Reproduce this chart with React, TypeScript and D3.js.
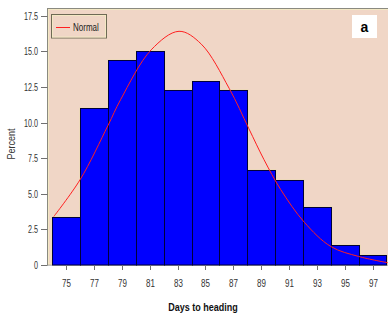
import { useEffect, useRef } from 'react';
import * as d3 from 'd3';

// histogram bins (centres, width 2 days) and percent per bin
const binCenters = [75, 77, 79, 81, 83, 85, 87, 89, 91, 93, 95, 97];
const percents = [3.4, 11.0, 14.4, 15.0, 12.3, 12.9, 12.3, 6.7, 6.0, 4.1, 1.4, 0.7];

// fitted normal curve
const normalX = [74.1, 76.0, 78.0, 78.9, 81.1, 83.1, 84.7, 86.7, 88.1, 89.2, 90.4, 92.1, 94.0, 96.0, 98.1];
const normalY = [3.4, 6.0, 9.8, 11.6, 15.1, 16.4, 15.5, 12.4, 9.6, 7.4, 5.3, 3.0, 1.3, 0.6, 0.16];

const yTicks = [0, 2.5, 5, 7.5, 10, 12.5, 15, 17.5];

const W = 388;
const H = 315;

export default function App() {
  const svgRef = useRef<SVGSVGElement>(null);

  useEffect(() => {
    if (!svgRef.current) return;
    const svg = d3.select(svgRef.current);
    svg.selectAll('*').remove();

    const left = 47.5;
    const top = 8.5;
    const bottom = 265;
    const right = 392;

    const x = d3.scaleLinear().domain([73.65, 98.4]).range([left, right]);
    const y = d3.scaleLinear().domain([0, 18]).range([bottom, top]);

    const font = '"Liberation Sans", Arial, sans-serif';

    // plot background + frame
    svg.append('rect')
      .attr('x', left).attr('y', top)
      .attr('width', right - left).attr('height', bottom - top)
      .attr('fill', '#f0d6c6')
      .attr('stroke', '#8a8a80');
    svg.append('rect')
      .attr('x', left + 1).attr('y', top + 1)
      .attr('width', right - left - 2).attr('height', bottom - top - 2)
      .attr('fill', 'none')
      .attr('stroke', '#f3e8c4');

    // bars: beige highlight then blue bar
    const bars = svg.append('g');
    binCenters.forEach((c, i) => {
      const x0 = Math.round(x(c - 1)) + 0.5;
      const x1 = Math.round(x(c + 1)) + 0.5;
      const y0 = Math.round(y(percents[i])) + 0.5;
      bars.append('rect')
        .attr('x', x0 - 1).attr('y', y0 - 1)
        .attr('width', x1 - x0 + 2).attr('height', bottom - y0 + 1)
        .attr('fill', '#e9dcae');
    });
    binCenters.forEach((c, i) => {
      const x0 = Math.round(x(c - 1)) + 0.5;
      const x1 = Math.round(x(c + 1)) + 0.5;
      const y0 = Math.round(y(percents[i])) + 0.5;
      bars.append('rect')
        .attr('x', x0).attr('y', y0)
        .attr('width', x1 - x0).attr('height', bottom - y0)
        .attr('fill', '#0000ff')
        .attr('stroke', '#00003a')
        .attr('stroke-width', 1);
    });

    // normal curve
    const line = d3.line<number>()
      .x((_d, i) => x(normalX[i]))
      .y((d) => y(d))
      .curve(d3.curveCatmullRom);
    svg.append('path')
      .attr('d', line(normalY))
      .attr('fill', 'none')
      .attr('stroke', '#ff2020')
      .attr('stroke-width', 1);

    // y axis (narrow-looking labels)
    const yAxis = svg.append('g');
    yTicks.forEach((t) => {
      const yy = Math.round(y(t)) + 0.5;
      yAxis.append('line')
        .attr('x1', 41).attr('x2', left)
        .attr('y1', yy).attr('y2', yy)
        .attr('stroke', '#707070');
      yAxis.append('text')
        .attr('transform', `translate(38,${yy + 3.5}) scale(0.72,1)`)
        .attr('text-anchor', 'end')
        .attr('font-family', font)
        .attr('font-size', 10)
        .attr('fill', '#333')
        .text(t === 0 ? '0' : t.toFixed(1));
    });
    svg.append('text')
      .attr('transform', 'translate(15,144) rotate(-90) scale(0.9,1)')
      .attr('text-anchor', 'middle')
      .attr('font-family', font)
      .attr('font-size', 10)
      .attr('fill', '#333')
      .text('Percent');

    // x axis
    const xAxis = svg.append('g');
    binCenters.forEach((c) => {
      const xx = Math.round(x(c)) + 0.5;
      xAxis.append('line')
        .attr('x1', xx).attr('x2', xx)
        .attr('y1', bottom).attr('y2', bottom + 5)
        .attr('stroke', '#707070');
      xAxis.append('text')
        .attr('transform', `translate(${xx},${bottom + 22}) scale(0.8,1)`)
        .attr('text-anchor', 'middle')
        .attr('font-family', font)
        .attr('font-size', 10)
        .attr('fill', '#333')
        .text(String(c));
    });
    svg.append('text')
      .attr('transform', 'translate(203,311) scale(0.82,1)')
      .attr('text-anchor', 'middle')
      .attr('font-family', font)
      .attr('font-size', 11)
      .attr('font-weight', 'bold')
      .attr('fill', '#111')
      .text('Days to heading');

    // legend
    const lg = svg.append('g');
    lg.append('rect')
      .attr('x', 51.5).attr('y', 14.5).attr('width', 55).attr('height', 23.5)
      .attr('fill', '#f0d6c6').attr('stroke', '#6e6a55');
    lg.append('rect')
      .attr('x', 52.5).attr('y', 15.5).attr('width', 53).attr('height', 21.5)
      .attr('fill', 'none').attr('stroke', '#f3e8c4');
    lg.append('line')
      .attr('x1', 56).attr('x2', 70).attr('y1', 27.5).attr('y2', 27.5)
      .attr('stroke', '#ff2020');
    lg.append('text')
      .attr('transform', 'translate(73,31) scale(0.8,1)')
      .attr('font-family', font)
      .attr('font-size', 10)
      .attr('fill', '#222')
      .text('Normal');

    // panel label
    svg.append('rect')
      .attr('x', 352).attr('y', 15).attr('width', 25).attr('height', 23)
      .attr('fill', '#ffffff');
    svg.append('text')
      .attr('x', 364.5).attr('y', 32)
      .attr('text-anchor', 'middle')
      .attr('font-family', font)
      .attr('font-size', 14)
      .attr('font-weight', 'bold')
      .attr('fill', '#000')
      .text('a');
  }, []);

  return (
    <svg
      ref={svgRef}
      width={W}
      height={H}
      style={{ position: 'absolute', left: 0, top: 0, display: 'block', background: '#fff' }}
    />
  );
}
